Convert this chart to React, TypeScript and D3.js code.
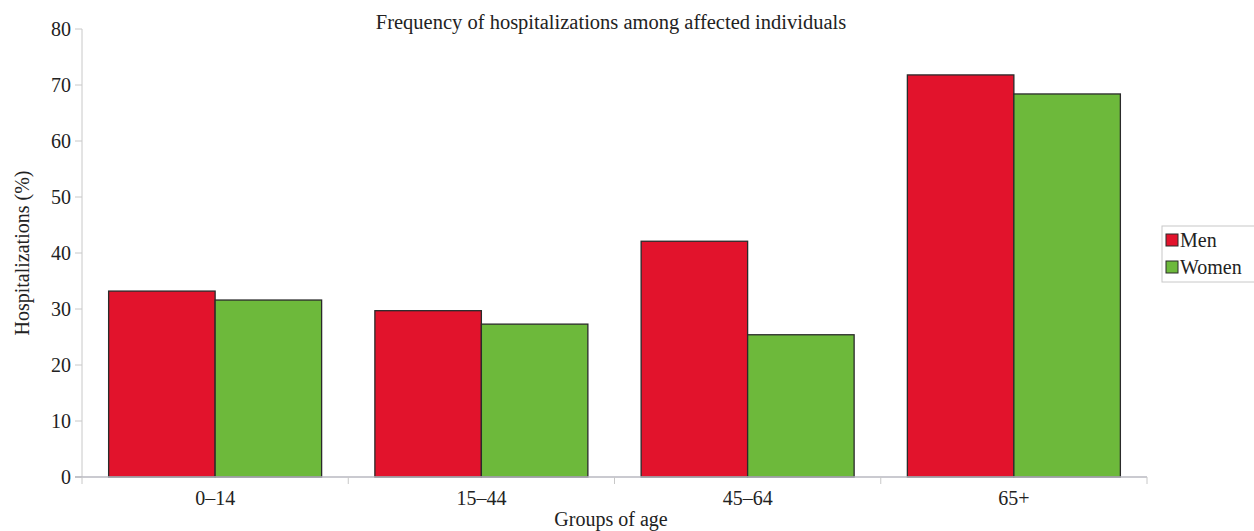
import React, { useEffect, useRef } from 'react';
import * as d3 from 'd3';

const categories = ['0–14', '15–44', '45–64', '65+'];
const seriesNames = ['Men', 'Women'];
const menValues = [33.2, 29.7, 42.1, 71.8];
const womenValues = [31.6, 27.3, 25.4, 68.4];
const yTicks = [0, 10, 20, 30, 40, 50, 60, 70, 80];
const colors = ['#e2132c', '#6db93b'];

const W = 1254;
const H = 531;

const App: React.FC = () => {
  const svgRef = useRef<SVGSVGElement>(null);

  useEffect(() => {
    if (!svgRef.current) return;
    const svg = d3.select(svgRef.current);
    svg.selectAll('*').remove();

    const left = 82, right = 1147, top = 29, bottom = 477;
    const font = '"Liberation Serif", "Times New Roman", serif';
    const fs = 20;

    const x0 = d3.scaleBand<string>().domain(categories).range([left, right]).paddingInner(0.2).paddingOuter(0.1);
    const x1 = d3.scaleBand<string>().domain(seriesNames).range([0, x0.bandwidth()]);
    const y = d3.scaleLinear().domain([0, 80]).range([bottom, top]);
    const step = x0.step();

    // y axis
    const yAxis = svg.append('g');
    yAxis.append('line').attr('x1', left).attr('x2', left).attr('y1', top).attr('y2', bottom)
      .attr('stroke', '#c8c8c8');
    yTicks.forEach(t => {
      yAxis.append('line').attr('x1', left - 7).attr('x2', left).attr('y1', y(t)).attr('y2', y(t))
        .attr('stroke', '#c8c8c8');
      yAxis.append('text').attr('x', left - 11).attr('y', y(t)).attr('dy', '0.35em')
        .attr('text-anchor', 'end').attr('font-family', font).attr('font-size', fs).attr('fill', '#222')
        .text(t);
    });

    // bars
    const data = [menValues, womenValues];
    categories.forEach((c, i) => {
      seriesNames.forEach((s, j) => {
        const v = data[j][i];
        svg.append('rect')
          .attr('x', (x0(c) ?? 0) + (x1(s) ?? 0))
          .attr('y', y(v))
          .attr('width', x1.bandwidth())
          .attr('height', y(0) - y(v))
          .attr('fill', colors[j])
          .attr('stroke', '#2a2a2a')
          .attr('stroke-width', 1.3);
      });
    });

    // x axis
    const xAxis = svg.append('g');
    xAxis.append('line').attr('x1', left - 7).attr('x2', right).attr('y1', bottom).attr('y2', bottom)
      .attr('stroke', '#b8b8c0').attr('stroke-width', 1.5);
    d3.range(categories.length + 1).forEach(k => {
      const xx = left + k * step;
      xAxis.append('line').attr('x1', xx).attr('x2', xx).attr('y1', bottom).attr('y2', bottom + 7)
        .attr('stroke', '#c8c8c8');
    });
    categories.forEach(c => {
      xAxis.append('text').attr('x', (x0(c) ?? 0) + x0.bandwidth() / 2).attr('y', bottom + 21)
        .attr('dy', '0.35em').attr('text-anchor', 'middle').attr('font-family', font)
        .attr('font-size', fs).attr('fill', '#222').text(c);
    });

    // titles
    svg.append('text').attr('x', 611).attr('y', 22).attr('dy', '0.35em').attr('text-anchor', 'middle')
      .attr('font-family', font).attr('font-size', 20.5).attr('fill', '#222')
      .text('Frequency of hospitalizations among affected individuals');
    svg.append('text').attr('x', 611).attr('y', 519).attr('dy', '0.35em').attr('text-anchor', 'middle')
      .attr('font-family', font).attr('font-size', fs).attr('fill', '#222').text('Groups of age');
    svg.append('text').attr('transform', `translate(22,${(top + bottom) / 2}) rotate(-90)`)
      .attr('dy', '0.35em').attr('text-anchor', 'middle').attr('font-family', font)
      .attr('font-size', fs).attr('fill', '#222').text('Hospitalizations (%)');

    // legend
    const lg = svg.append('g').attr('transform', 'translate(1162,226)');
    lg.append('rect').attr('x', 0).attr('y', 0).attr('width', 96).attr('height', 56)
      .attr('fill', '#fff').attr('stroke', '#c8c8c8');
    seriesNames.forEach((s, j) => {
      const cy = 14 + j * 27;
      lg.append('rect').attr('x', 4).attr('y', cy - 6).attr('width', 12).attr('height', 12)
        .attr('fill', colors[j]).attr('stroke', '#2a2a2a');
      lg.append('text').attr('x', 18).attr('y', cy).attr('dy', '0.35em').attr('font-family', font)
        .attr('font-size', fs).attr('fill', '#222').text(s);
    });
  }, []);

  return (
    <svg ref={svgRef} width={W} height={H}
      style={{ position: 'absolute', left: 0, top: 0, background: '#fff' }} />
  );
};

export default App;
